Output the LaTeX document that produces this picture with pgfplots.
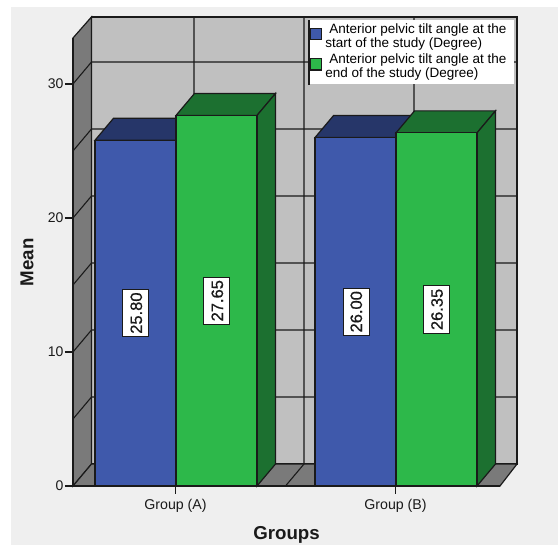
\documentclass[border=0pt]{standalone}
\usepackage{fontspec}
\setmainfont{Liberation Sans}
\newfontfamily\valuefont[FakeBold=0.6]{Liberation Sans}
\usepackage{pgfplots}
\pgfplotsset{compat=1.18}
\definecolor{panel}{HTML}{EFEFEF}
\definecolor{wallback}{HTML}{C0C0C0}
\definecolor{wallside}{HTML}{7A7A7A}
\definecolor{barblue}{HTML}{3F59AB}
\definecolor{barbluedark}{HTML}{263669}
\definecolor{bargreen}{HTML}{2DB84A}
\definecolor{bargreendark}{HTML}{1C7030}
\definecolor{ink}{HTML}{1A1A1A}
\newcommand{\legendtext}[2]{\parbox[c]{187pt}{\fontsize{13.5}{14}\selectfont\hspace*{4pt}#1\\#2}}
\begin{document}
\begin{tikzpicture}[x=1pt,y=1pt]
\fill[white] (0,0) rectangle (558,545);
\fill[panel] (11,0) rectangle (558,538);
\begin{axis}[
  at={(73pt,59pt)}, anchor=origin,
  scale only axis, width=427pt, height=448pt,
  xmin=73, xmax=500, ymin=0, ymax=33.43,
  clip=false, axis on top=true,
  axis x line=bottom, axis y line=left,
  axis line style={-, line width=1.2pt, color=ink},
  tick style={line width=1.1pt, color=ink},
  major tick length=8pt,
  tick align=outside,
  xtick={175.5,395.5}, xticklabels={Group (A),Group (B)},
  ytick={0,10,20,30},
  minor tick num=0,
  xticklabel style={font=\fontsize{14.2}{15}\selectfont, color=ink, yshift=-1.5pt},
  yticklabel style={font=\fontsize{14}{15}\selectfont, color=ink, xshift=2pt},
  /pgf/number format/assume math mode=true,
  xlabel={\textbf{Groups}}, ylabel={\textbf{Mean}},
  xlabel style={font=\fontsize{18.7}{20}\selectfont, color=ink, at={(axis cs:286.5,-3.62)}, anchor=center},
  ylabel style={font=\fontsize{18.7}{20}\selectfont, color=ink, at={(axis cs:27,16.7)}, anchor=center, rotate=0},
  legend style={at={(axis cs:308,34.78)}, anchor=north west, draw=none, fill=white,
    inner xsep=1.5pt, inner ysep=3.5pt, row sep=3.5pt,
    nodes={inner sep=0pt, text depth=}, /tikz/column sep=3pt},
  legend cell align=left,
  legend image code/.code={\draw[#1, line width=1.1pt, draw=ink] (0pt,-3pt) rectangle (11.5pt,8.5pt);},
]
% back wall
\addplot[forget plot, fill=wallback, draw=ink, line width=1.2pt]
  coordinates {(91.5,1.64) (517,1.64) (517,35.0) (91.5,35.0)} -- cycle;
% left wall
\addplot[forget plot, fill=wallside, draw=ink, line width=1.2pt]
  coordinates {(73,0) (91.5,1.64) (91.5,35.0) (73,33.43)} -- cycle;
% floor
\addplot[forget plot, fill=wallside, draw=ink, line width=1.2pt]
  coordinates {(73,0) (500,0) (517,1.64) (91.5,1.64)} -- cycle;
% grid lines on the side wall and the back wall, every 5 units
\pgfplotsinvokeforeach{5,10,15,20,25,30}{
  \addplot[forget plot, draw=ink, line width=1.1pt]
    coordinates {(73,#1) (91.5,#1+1.64) (517,#1+1.64)};
}
% vertical grid lines, continued across the floor
\pgfplotsinvokeforeach{194,304,414}{
  \addplot[forget plot, draw=ink, line width=1.1pt]
    coordinates {(#1-18.5,0) (#1,1.64) (#1,35.0)};
}
% group A: depth faces
\addplot[forget plot, fill=barbluedark, draw=ink, line width=1.2pt]
  coordinates {(95,25.8) (176,25.8) (194.5,27.44) (113.5,27.44)} -- cycle;
\addplot[forget plot, fill=bargreendark, draw=ink, line width=1.2pt]
  coordinates {(176,27.65) (257,27.65) (275.5,29.29) (194.5,29.29)} -- cycle;
\addplot[forget plot, fill=bargreendark, draw=ink, line width=1.2pt]
  coordinates {(257,0) (275.5,1.64) (275.5,29.29) (257,27.65)} -- cycle;
% group B: depth faces
\addplot[forget plot, fill=barbluedark, draw=ink, line width=1.2pt]
  coordinates {(315,26) (396,26) (414.5,27.64) (333.5,27.64)} -- cycle;
\addplot[forget plot, fill=bargreendark, draw=ink, line width=1.2pt]
  coordinates {(396,26.35) (477,26.35) (495.5,27.99) (414.5,27.99)} -- cycle;
\addplot[forget plot, fill=bargreendark, draw=ink, line width=1.2pt]
  coordinates {(477,0) (495.5,1.64) (495.5,27.99) (477,26.35)} -- cycle;
% front faces of the bars
\addplot[ybar, bar width=81pt, bar shift=0pt, fill=barblue, draw=ink, line width=1.2pt]
  coordinates {(135.5,25.80) (355.5,26.00)};
\addlegendentry{\legendtext{Anterior pelvic tilt angle at the}{start of the study (Degree)}}
\addplot[ybar, bar width=81pt, bar shift=0pt, fill=bargreen, draw=ink, line width=1.2pt]
  coordinates {(216.5,27.65) (436.5,26.35)};
\addlegendentry{\legendtext{Anterior pelvic tilt angle at the}{end of the study (Degree)}}
% value labels at mid-height of the bars
\addplot[forget plot, draw=none, mark=none, point meta=explicit,
  nodes near coords={\pgfmathprintnumber[fixed, fixed zerofill, precision=2]{\pgfplotspointmeta}},
  nodes near coords align={center},
  every node near coord/.style={rotate=90, anchor=center, fill=white, draw=ink, line width=1pt,
    inner xsep=3pt, inner ysep=7pt, text height=12pt, text depth=0pt, text=ink, font=\fontsize{16.5}{18}\selectfont\valuefont}]
  table[x=x, y expr=\thisrow{v}/2, meta=v] {
x v
136 25.80
217 27.65
356 26.00
436.7 26.35
};
\end{axis}
\draw[ink, line width=1.1pt] (309,460) -- (309,525);
\end{tikzpicture}
\end{document}
